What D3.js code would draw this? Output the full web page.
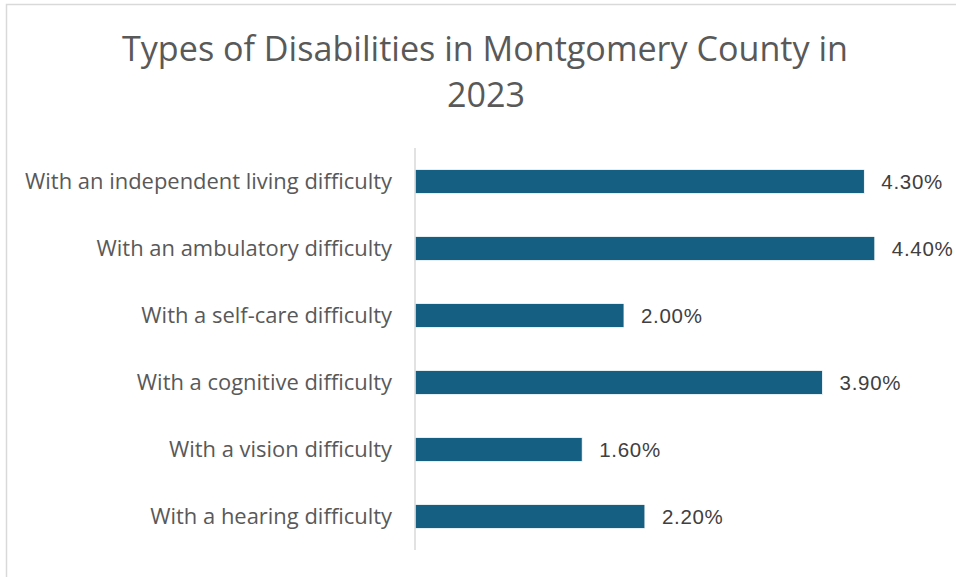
<!DOCTYPE html>
<html>
<head>
<meta charset="utf-8">
<script src="https://cdn.jsdelivr.net/npm/d3@7"></script>
<style>
  html, body { margin: 0; padding: 0; background: #fff; overflow: hidden; }
</style>
</head>
<body>
<svg id="chart"></svg>
<script>
// Data
const categories = [
  'With an independent living difficulty',
  'With an ambulatory difficulty',
  'With a self-care difficulty',
  'With a cognitive difficulty',
  'With a vision difficulty',
  'With a hearing difficulty'
];
const values = [4.3, 4.4, 2.0, 3.9, 1.6, 2.2];
const titleLines = ['Types of Disabilities in Montgomery County in', '2023'];

const data = categories.map((c, i) => ({ category: c, value: values[i] }));

const W = 956, H = 577;
const svg = d3.select('#chart').attr('width', W).attr('height', H);

// Chart frame (runs past the right/bottom edge like the screenshot)
svg.append('rect')
  .attr('x', 6.5).attr('y', 4.5)
  .attr('width', 970).attr('height', 600)
  .attr('fill', '#fff')
  .attr('stroke', '#d9d9d9')
  .attr('stroke-width', 1.5);

// Scales
const x = d3.scaleLinear().domain([0, 5]).range([415, 937.5]);
const y = d3.scaleBand().domain(categories).range([148, 550]).paddingInner(0.64).paddingOuter(0.32);

// fit a text's font size to a target width
function fitWidth(sel, target) {
  const node = sel.node();
  const base = parseFloat(sel.style('font-size'));
  const len = node.getComputedTextLength();
  return base * target / len;
}

// Title
const title = svg.append('g').attr('class', 'title');
const t1 = title.append('text')
  .attr('x', 485).attr('y', 61)
  .attr('text-anchor', 'middle')
  .style('font-family', '"Open Sans", sans-serif')
  .style('font-size', '34px')
  .attr('fill', '#595959')
  .text(titleLines[0]);
const titleSize = fitWidth(t1, 726);
t1.style('font-size', titleSize + 'px');
title.append('text')
  .attr('x', 486).attr('y', 106.5)
  .attr('text-anchor', 'middle')
  .style('font-family', '"Open Sans", sans-serif')
  .style('font-size', titleSize + 'px')
  .attr('fill', '#595959')
  .text(titleLines[1]);

// Bars
svg.append('g')
  .selectAll('rect')
  .data(data)
  .join('rect')
  .attr('x', x(0))
  .attr('y', d => y(d.category))
  .attr('width', d => x(d.value) - x(0))
  .attr('height', y.bandwidth())
  .attr('fill', '#156082')
  .attr('stroke', '#ffffff')
  .attr('stroke-width', 0.8);

// Axis line
svg.append('line')
  .attr('x1', 415).attr('x2', 415)
  .attr('y1', 148).attr('y2', 550)
  .attr('stroke', '#d9d9d9')
  .attr('stroke-width', 1.5);

// Category labels
const labels = svg.append('g')
  .selectAll('text')
  .data(data)
  .join('text')
  .attr('x', 392)
  .attr('y', d => y(d.category) + y.bandwidth() / 2)
  .attr('dy', '0.35em')
  .attr('text-anchor', 'end')
  .style('font-family', '"Open Sans", sans-serif')
  .style('font-size', '19px')
  .attr('fill', '#595959')
  .text(d => d.category);
const labelSize = fitWidth(labels.filter((d, i) => i === 0), 367);
labels.style('font-size', labelSize + 'px');

// Value labels
svg.append('g')
  .selectAll('text')
  .data(data)
  .join('text')
  .attr('x', d => x(d.value) + 17)
  .attr('y', d => y(d.category) + y.bandwidth() / 2)
  .attr('dy', '0.37em')
  .style('font-family', '"Liberation Sans", Arial, sans-serif')
  .style('font-size', '20.5px')
  .style('letter-spacing', '0.7px')
  .attr('fill', '#404040')
  .text(d => d.value.toFixed(2) + '%');
</script>
</body>
</html>
